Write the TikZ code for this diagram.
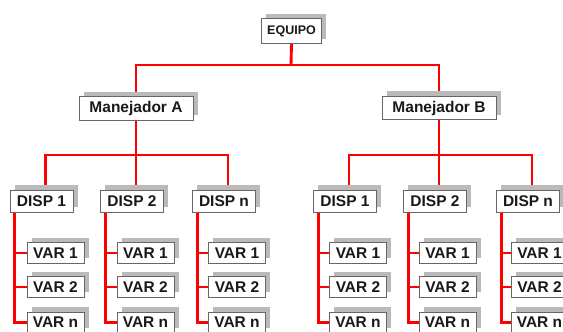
\documentclass[tikz,border=0pt]{standalone}
\usepackage{fontspec}
\setmainfont{Liberation Sans}
\usetikzlibrary{shadows,backgrounds}

\tikzset{
  box/.style={draw=black!60, line width=0.8pt, fill=white, inner sep=0pt,
    text=black!90, font=\bfseries\fontsize{15.5}{16}\selectfont,
    drop shadow={opacity=1, fill=black!27, shadow xshift=4.5pt, shadow yshift=5pt}},
  topbox/.style={box, minimum width=60pt, minimum height=25pt,
    font=\bfseries\fontsize{12.5}{13}\selectfont},
  mgrbox/.style={box, minimum width=114pt, minimum height=23.5pt},
  dispbox/.style={box, minimum width=63pt, minimum height=22pt},
  varbox/.style={box, minimum width=57pt, minimum height=20.5pt},
  wire/.style={draw=red, line width=2.9pt}
}

\begin{document}
\begin{tikzpicture}[x=1pt, y=-1pt]
\useasboundingbox (0,0) rectangle (563,332);
\clip (0,0) rectangle (563,332);

% top level and managers
\node[topbox] (eq) at (291.5,31) {EQUIPO};
\node[mgrbox] (ma) at (136,108.5) {Manejador A};
\node[mgrbox] (mb) at (439,108) {Manejador B};

% devices of manager A
\node[dispbox] (a1) at (41.5,201) {DISP 1};
\node[dispbox] (a2) at (132,201) {DISP 2};
\node[dispbox] (an) at (224,201) {DISP n};
% devices of manager B
\node[dispbox] (b1) at (345,201) {DISP 1};
\node[dispbox] (b2) at (435,201) {DISP 2};
\node[dispbox] (bn) at (528,201) {DISP n};

% variables of each device
\node[varbox] (a11) at (55.5,253) {VAR 1};
\node[varbox] (a12) at (55.5,287) {VAR 2};
\node[varbox] (a1n) at (55.5,322.5) {VAR n};
\node[varbox] (a21) at (145.5,253) {VAR 1};
\node[varbox] (a22) at (145.5,287) {VAR 2};
\node[varbox] (a2n) at (145.5,322.5) {VAR n};
\node[varbox] (an1) at (237,253) {VAR 1};
\node[varbox] (an2) at (237,287) {VAR 2};
\node[varbox] (ann) at (237,322.5) {VAR n};

\node[varbox] (b11) at (358,253) {VAR 1};
\node[varbox] (b12) at (358,287) {VAR 2};
\node[varbox] (b1n) at (358,322.5) {VAR n};
\node[varbox] (b21) at (447.5,253) {VAR 1};
\node[varbox] (b22) at (447.5,287) {VAR 2};
\node[varbox] (b2n) at (447.5,322.5) {VAR n};
\node[varbox] (bn1) at (539.5,253) {VAR 1};
\node[varbox] (bn2) at (539.5,287) {VAR 2};
\node[varbox] (bnn) at (539.5,322.5) {VAR n};

% bus levels and stems
\coordinate (topbus) at (291,65);
\coordinate (busA) at (136,155);
\coordinate (busB) at (439,155);
\foreach \d in {a1,a2,an,b1,b2,bn}{
  \coordinate (\d t) at ([xshift=4pt]\d.north);
  \coordinate (\d v) at ([xshift=5pt]\d.south west);
}

\begin{scope}[on background layer]
  \fill[white] (0,0) rectangle (563,332);
  % equipment to managers
  \draw[wire] (eq.south) -- (topbus);
  \draw[wire] (ma.north) -- (ma.north |- topbus) -- (mb.north |- topbus) -- (mb.north);
  % managers to devices
  \draw[wire] (ma.south) -- (a2t);
  \draw[wire] (a1t) -- (a1t |- busA) -- (ant |- busA) -- (ant);
  \draw[wire] (mb.south) -- (b2t);
  \draw[wire] (b1t) -- (b1t |- busB) -- (bnt |- busB) -- (bnt);
  % devices to variables
  \foreach \d in {a1,a2,an,b1,b2,bn}{
    \draw[wire] (\d v) |- (\d n.west);
    \draw[wire] (\d 1.west) -- (\d 1.west -| \d v);
    \draw[wire] (\d 2.west) -- (\d 2.west -| \d v);
  }
\end{scope}
\end{tikzpicture}
\end{document}
